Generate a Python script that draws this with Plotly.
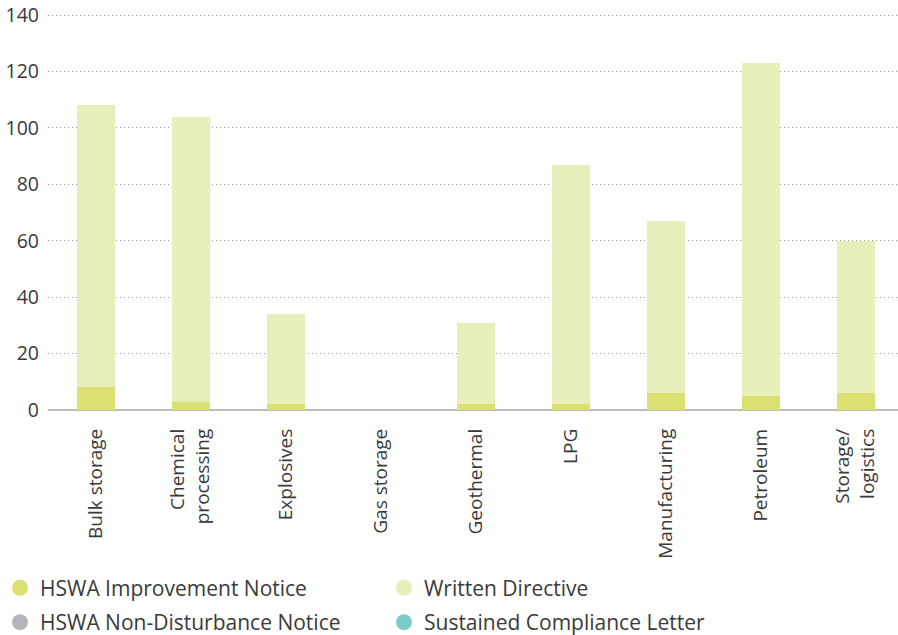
import plotly.graph_objects as go

# Hazardous substances sectors and the notices issued to each
sectors = ["Bulk storage", "Chemical<br>processing", "Explosives", "Gas storage",
           "Geothermal", "LPG", "Manufacturing", "Petroleum", "Storage/<br>logistics"]

improvement_notice = [8, 3, 2, 0, 2, 2, 6, 5, 6]
written_directive = [100, 101, 32, 0, 29, 85, 61, 118, 54]
non_disturbance_notice = [0, 0, 0, 0, 0, 0, 0, 0, 0]
sustained_compliance = [0, 0, 0, 0, 0, 0, 0, 0, 0]

y_ticks = [0, 20, 40, 60, 80, 100, 120, 140]

# (name, values, colour, legend column)
series = [
    ("HSWA Improvement Notice", improvement_notice, "#dae172", "legend"),
    ("Written Directive", written_directive, "#e8efba", "legend2"),
    ("HSWA Non-Disturbance Notice", non_disturbance_notice, "#b4b4b9", "legend"),
    ("Sustained Compliance Letter", sustained_compliance, "#7bccc6", "legend2"),
]

FONT = "Open Sans"
TEXT = "#3a3a3a"

fig = go.Figure()
for name, vals, color, _ in series:
    fig.add_trace(go.Bar(
        x=sectors, y=vals, name=name, marker_color=color,
        marker_line_width=0, width=0.4, showlegend=False,
    ))

# circular legend keys, split into two columns
for name, vals, color, leg in series:
    fig.add_trace(go.Scatter(
        x=[None], y=[None], mode="markers", name=name,
        marker=dict(symbol="circle", size=18, color=color),
        showlegend=True, legend=leg, legendgroup=name,
    ))

legend_style = dict(
    orientation="v", xref="container", yref="container",
    xanchor="left", yanchor="top", y=0.106,
    font=dict(family=FONT, size=21, color=TEXT),
    itemwidth=30, tracegroupgap=4, traceorder="grouped",
    bgcolor="rgba(0,0,0,0)",
)

fig.update_layout(
    width=898, height=635,
    margin=dict(l=48, r=0, t=14, b=225, autoexpand=False),
    barmode="stack",
    plot_bgcolor="white", paper_bgcolor="white",
    font=dict(family=FONT, size=18, color=TEXT),
    legend=dict(x=0.0, **legend_style),
    legend2=dict(x=0.4276, **legend_style),
    xaxis=dict(
        type="category", range=[-0.5, 8.447], tickangle=-90,
        showgrid=False, ticks="", showline=False, zeroline=False,
        ticklabelstandoff=14, automargin=False,
        tickfont=dict(family=FONT, size=19, color=TEXT),
    ),
    yaxis=dict(
        range=[0, 140.4], tickvals=y_ticks, showgrid=True,
        gridcolor="#9a9a9a", griddash="1px,3px", gridwidth=1,
        zeroline=True, zerolinecolor="#bdbdbd", zerolinewidth=2,
        ticks="", showline=False, ticklabelstandoff=8, automargin=False,
        tickfont=dict(family=FONT, size=19.5, color=TEXT),
    ),
)

fig.write_html("out.html")
